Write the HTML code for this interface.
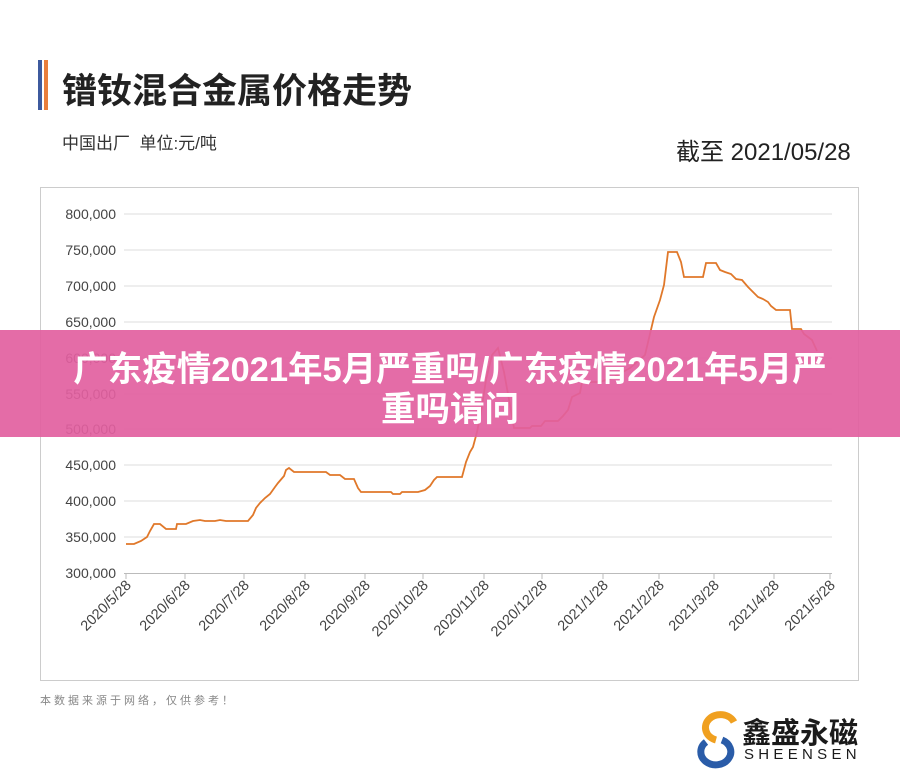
<!DOCTYPE html>
<html><head><meta charset="utf-8"><style>
body{margin:0;width:900px;height:771px;background:#fff;position:relative;overflow:hidden;font-family:"Liberation Sans","Noto Sans CJK SC",sans-serif}
.t{position:absolute;white-space:nowrap}
</style></head><body>
<div style="position:absolute;left:38px;top:60px;width:4px;height:50px;background:#3d5a9e"></div>
<div style="position:absolute;left:44px;top:60px;width:4px;height:50px;background:#e97e3c"></div>
<div class="t" style="left:62px;top:63px;font-size:35px;font-weight:bold;color:#222">镨钕混合金属价格走势</div>
<div class="t" style="left:62px;top:129px;font-size:17px;color:#333">中国出厂&nbsp; 单位:元/吨</div>
<div class="t" style="left:676px;top:132px;font-size:24px;color:#222">截至 2021/05/28</div>
<div class="t" style="left:40px;top:692px;font-size:11px;color:#888;letter-spacing:3px">本数据来源于网络，仅供参考！</div>
<svg width="900" height="771" style="position:absolute;left:0;top:0">
<rect x="40.5" y="187.5" width="818" height="493" fill="none" stroke="#ccc"/>
<g stroke="#ddd" stroke-width="1">
<line x1="124" x2="832" y1="214" y2="214"/><line x1="124" x2="832" y1="250" y2="250"/><line x1="124" x2="832" y1="286" y2="286"/><line x1="124" x2="832" y1="322" y2="322"/><line x1="124" x2="832" y1="358" y2="358"/><line x1="124" x2="832" y1="394" y2="394"/><line x1="124" x2="832" y1="429" y2="429"/><line x1="124" x2="832" y1="465" y2="465"/><line x1="124" x2="832" y1="501" y2="501"/><line x1="124" x2="832" y1="537" y2="537"/>
</g>
<line x1="124" x2="832" y1="573.5" y2="573.5" stroke="#bbb"/>
<g font-size="14" fill="#444" text-anchor="end" font-family="Liberation Sans">
<text x="116" y="219">800,000</text><text x="116" y="255">750,000</text><text x="116" y="291">700,000</text><text x="116" y="327">650,000</text><text x="116" y="363">600,000</text><text x="116" y="399">550,000</text><text x="116" y="434">500,000</text><text x="116" y="470">450,000</text><text x="116" y="506">400,000</text><text x="116" y="542">350,000</text><text x="116" y="578">300,000</text>
</g>
<g font-size="14.5" fill="#444" text-anchor="end" font-family="Liberation Sans">
<g transform="translate(132,586) rotate(-45)"><text>2020/5/28</text></g>
<g transform="translate(191,586) rotate(-45)"><text>2020/6/28</text></g>
<g transform="translate(250,586) rotate(-45)"><text>2020/7/28</text></g>
<g transform="translate(311,586) rotate(-45)"><text>2020/8/28</text></g>
<g transform="translate(371,586) rotate(-45)"><text>2020/9/28</text></g>
<g transform="translate(429,586) rotate(-45)"><text>2020/10/28</text></g>
<g transform="translate(490,586) rotate(-45)"><text>2020/11/28</text></g>
<g transform="translate(548,586) rotate(-45)"><text>2020/12/28</text></g>
<g transform="translate(609,586) rotate(-45)"><text>2021/1/28</text></g>
<g transform="translate(665,586) rotate(-45)"><text>2021/2/28</text></g>
<g transform="translate(720,586) rotate(-45)"><text>2021/3/28</text></g>
<g transform="translate(780,586) rotate(-45)"><text>2021/4/28</text></g>
<g transform="translate(836,586) rotate(-45)"><text>2021/5/28</text></g>
</g>
<polyline fill="none" stroke="#e0782a" stroke-width="1.8" points="126,544 134,544 141,541 147,537 150,531 154,524 160,524 166,529 176,529 177,524 186,524 193,521 200,520 205,521 215,521 220,520 226,521 248,521 253,515 256,508 260,503 265,498 270,494 275,487 278,483 284,476 286,470 289,468 294,472 326,472 330,475 340,475 345,479 354,479 358,488 361,492 391,492 393,494 400,494 402,492 418,492 425,490 430,486 434,480 437,477 462,477 466,462 470,452 473,447 477,432 481,412 486,380 492,355 498,348 504,372 510,405 514,428 530,428 532,426 541,426 545,421 558,421 563,416 568,410 572,397 580,393 582,382 600,382 612,378 630,368 645,355 654,317 660,300 664,285 668,252 677,252 681,262 684,277 703,277 706,263 716,263 720,270 725,272 731,274 736,279 742,280 748,287 753,292 758,297 763,299 768,302 771,306 776,310 790,310 792,329 801,329 804,334 812,340 817,351"/>
<g stroke="#bbb"><line x1="126" y1="574" x2="126" y2="579"/><line x1="185" y1="574" x2="185" y2="579"/><line x1="244" y1="574" x2="244" y2="579"/><line x1="305" y1="574" x2="305" y2="579"/><line x1="365" y1="574" x2="365" y2="579"/><line x1="423" y1="574" x2="423" y2="579"/><line x1="484" y1="574" x2="484" y2="579"/><line x1="542" y1="574" x2="542" y2="579"/><line x1="603" y1="574" x2="603" y2="579"/><line x1="659" y1="574" x2="659" y2="579"/><line x1="714" y1="574" x2="714" y2="579"/><line x1="774" y1="574" x2="774" y2="579"/><line x1="830" y1="574" x2="830" y2="579"/></g>
<path d="M734 722 A15 13 0 1 0 716 740" fill="none" stroke="#f0a020" stroke-width="7"/>
<path d="M706 742 A15 13 0 1 0 722 740" fill="none" stroke="#2a5ca8" stroke-width="7"/>
</svg>
<div style="position:absolute;left:0;top:330px;width:900px;height:107px;background:rgba(226,96,160,0.92)"></div>
<div class="t" style="left:0;width:900px;top:350px;text-align:center;font-size:34.5px;font-weight:bold;color:#fff;line-height:40px">广东疫情2021年5月严重吗/广东疫情2021年5月严<br>重吗请问</div>
<div class="t" style="left:742px;top:710px;font-size:29px;font-weight:bold;color:#1a1a1a">鑫盛永磁</div>
<div class="t" style="left:744px;top:746px;font-size:15px;color:#1a1a1a;letter-spacing:4.3px">SHEENSEN</div>
</body></html>
